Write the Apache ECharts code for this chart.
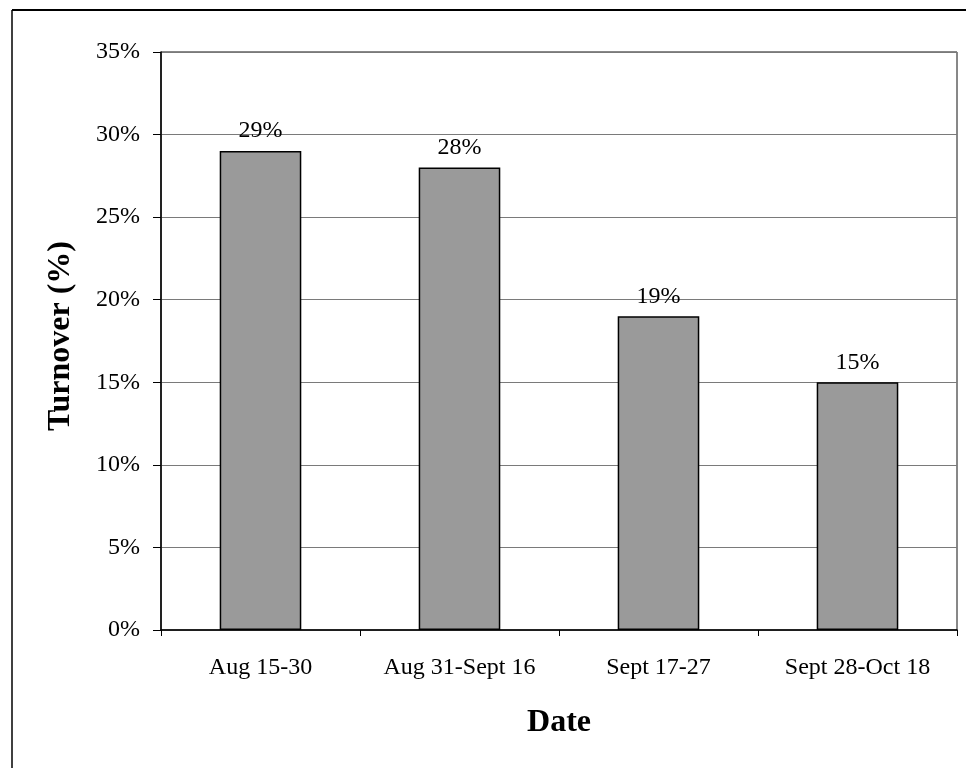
<!DOCTYPE html>
<html>
<head>
<meta charset="utf-8">
<script src="https://cdn.jsdelivr.net/npm/echarts@6/dist/echarts.min.js"></script>
<style>
  html, body { margin: 0; padding: 0; background: #fff; }
  #chart { width: 966px; height: 768px; }
</style>
</head>
<body>
<div id="chart"></div>
<script>
// Turnover by survey period
const periods = ['Aug 15-30', 'Aug 31-Sept 16', 'Sept 17-27', 'Sept 28-Oct 18'];
const turnover = [29, 28, 19, 15];
const yTicks = [0, 5, 10, 15, 20, 25, 30, 35];

const serif = '"Liberation Serif", "Times New Roman", serif';
const chart = echarts.init(document.getElementById('chart'));

chart.setOption({
  animation: false,
  backgroundColor: '#ffffff',
  grid: {
    left: 161, right: 9, top: 52, bottom: 138,
    show: true, borderColor: '#111', borderWidth: 1, backgroundColor: 'transparent'
  },
  xAxis: {
    type: 'category',
    data: periods,
    name: 'Date',
    nameLocation: 'middle',
    nameGap: 77,
    nameTextStyle: { fontFamily: serif, fontSize: 32, fontWeight: 'bold', color: '#000' },
    axisLine: { lineStyle: { color: '#000', width: 1.5 } },
    axisTick: { show: true, alignWithLabel: false, length: 6, lineStyle: { color: '#000' } },
    axisLabel: { fontFamily: serif, fontSize: 24, color: '#000', margin: 26 }
  },
  yAxis: {
    type: 'value',
    min: yTicks[0],
    max: yTicks[yTicks.length - 1],
    interval: 5,
    name: 'Turnover (%)',
    nameLocation: 'middle',
    nameGap: 84,
    nameTextStyle: { fontFamily: serif, fontSize: 32, fontWeight: 'bold', color: '#000',
                     padding: [0, 0, 0, 10] },
    axisLine: { show: true, lineStyle: { color: '#000', width: 1.5 } },
    axisTick: { show: true, length: 8, lineStyle: { color: '#000' } },
    axisLabel: { fontFamily: serif, fontSize: 24, color: '#000', margin: 21,
                 formatter: v => v + '%' },
    splitLine: { show: true, lineStyle: { color: '#7a7a7a', width: 1 } }
  },
  series: [{
    type: 'bar',
    data: turnover,
    barWidth: '41%',
    itemStyle: { color: '#9a9a9a', borderColor: '#000', borderWidth: 1.5 },
    label: {
      show: true, position: 'top', distance: 8,
      fontFamily: serif, fontSize: 24, color: '#000',
      formatter: p => p.value + '%'
    }
  }],
  graphic: [
    { type: 'line', shape: { x1: 12, y1: 10, x2: 966, y2: 10 }, style: { stroke: '#000', lineWidth: 2 } },
    { type: 'line', shape: { x1: 12, y1: 10, x2: 12, y2: 768 }, style: { stroke: '#000', lineWidth: 1.5 } }
  ]
});
</script>
</body>
</html>
